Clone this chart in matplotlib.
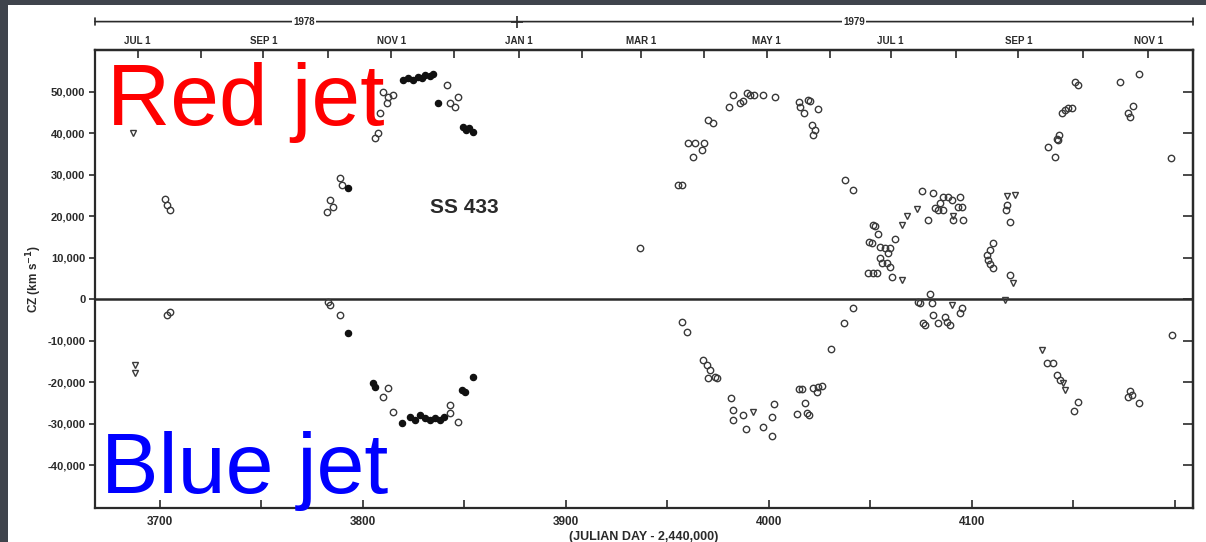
import matplotlib.pyplot as plt
from matplotlib.patches import Rectangle
from matplotlib import transforms

# SS 433 radial velocities, day = JD - 2,440,000, cz in km/s
open_day = [3702.5, 3703.4, 3704.9, 3782.3, 3783.7, 3785.2, 3788.7, 3789.7,
            3805.9, 3807.4, 3808.4, 3811.8, 3809.9, 3812.3, 3814.8,
            3782.8, 3783.7, 3788.7, 3703.4, 3704.9,
            3812.3, 3809.9, 3814.8, 3842.9, 3842.9, 3846.8,
            3841.4, 3842.9, 3845.3, 3846.8, 3936.5,
            3955.2, 3957.1, 3962.6, 3967.0, 3968.0, 3960.1, 3963.5, 3970.0, 3972.4,
            3980.3, 3982.3, 3985.7, 3987.2, 3989.2, 3990.6, 3992.6, 3997.0, 4003.0,
            4014.8, 4015.3, 4019.2, 4020.2, 4017.2, 4024.1, 4021.2, 4022.7, 4021.7,
            4037.4, 4041.4,
            3957.1, 3959.6, 3967.5, 3969.5, 3970.9, 3970.0, 3973.4, 3974.4,
            3981.3, 3982.3, 3982.3, 3987.2, 3988.7, 3997.0, 4001.5, 4001.5, 4002.5,
            4013.8, 4014.8, 4016.3, 4017.7, 4018.7, 4019.7, 4021.7, 4024.1, 4026.1,
            4023.6, 4030.5, 4036.9, 4041.4,
            4075.4, 4080.8, 4085.7, 4088.2, 4090.1, 4094.1, 4084.2, 4083.3, 4085.7,
            4081.8, 4093.1, 4095.1, 4078.3, 4090.6, 4095.6,
            4051.2, 4052.2, 4053.7, 4062.1, 4049.3, 4050.7, 4054.7, 4057.1, 4059.6,
            4058.6, 4054.7, 4055.7, 4058.1, 4059.6, 4048.8, 4051.2, 4053.2, 4060.6,
            4117.2, 4116.7, 4118.7, 4110.3, 4108.9, 4107.4, 4107.9, 4108.9, 4110.3,
            4118.7,
            4079.3, 4073.4, 4074.4, 4080.3, 4095.1, 4094.1, 4080.8, 4075.9, 4076.8,
            4083.3, 4086.7, 4087.7, 4089.2,
            4137.4, 4140.9, 4142.4, 4142.9, 4141.9, 4144.3, 4145.8, 4147.3, 4149.3,
            4150.7, 4152.2, 4172.9, 4182.3, 4179.3, 4176.8, 4177.8, 4198.0,
            4136.9, 4139.9, 4141.9, 4143.3, 4152.2, 4150.2, 4198.5, 4177.8, 4178.8,
            4176.8, 4182.3]
open_cz = [24100, 22700, 21400, 21000, 23900, 22200, 29200, 27500,
           38800, 40000, 44800, 47200, 49900, 48700, 49200,
           -700, -1400, -3900, -3900, -3100,
           -21400, -23600, -27200, -25500, -27500, -29600,
           51600, 47200, 46300, 48700, 12300,
           27500, 27500, 34200, 35900, 37600, 37600, 37600, 43100, 42400,
           46300, 49200, 47200, 47700, 49600, 49200, 49200, 49200, 48700,
           47500, 46300, 48000, 47700, 44800, 45800, 41900, 40700, 39500,
           28700, 26300,
           -5500, -8000, -14700, -15900, -17100, -19000, -18800, -19000,
           -23900, -26800, -29200, -28000, -31300, -30800, -28400, -33000, -25300,
           -27700, -21700, -21700, -25100, -27500, -28000, -21400, -21200, -21000,
           -22400, -12100, -5800, -2200,
           26000, 25500, 24600, 24600, 23900, 24600, 23100, 21400, 21400,
           21900, 22200, 22200, 19000, 19000, 19000,
           17800, 17600, 15700, 14500, 13700, 13500, 12500, 12300, 12300,
           11100, 9900, 8700, 8700, 7700, 6300, 6300, 6300, 5300,
           22700, 21400, 18600, 13500, 11800, 10600, 9400, 8400, 7500,
           5800,
           1200, -700, -1000, -1000, -2200, -3400, -3900, -5800, -6300,
           -5800, -4300, -5500, -6300,
           36600, 34200, 38300, 39500, 38600, 44800, 45500, 46000, 46000,
           52300, 51600, 52300, 54200, 46500, 44800, 43900, 34000,
           -15400, -15400, -18300, -19500, -24800, -27000, -8700, -22200, -23100,
           -23600, -25100]

filled_day = [3792.6, 3792.6, 3819.7, 3822.2, 3824.6, 3827.1, 3829.1, 3830.5,
              3833.0, 3834.5, 3836.9, 3849.3, 3850.7, 3852.2, 3854.2,
              3804.9, 3805.9, 3819.2, 3823.2, 3825.6, 3828.1, 3830.5, 3833.0,
              3835.5, 3837.9, 3839.9, 3848.8, 3850.2, 3854.2]
filled_cz = [26800, -8200, 52800, 53300, 52800, 53500, 53300, 54000,
             53700, 54200, 47200, 41500, 40700, 41200, 40200,
             -20200, -21200, -29900, -28400, -29200, -28000, -28700, -29200,
             -28700, -29200, -28400, -21900, -22400, -18800]

tri_day = [3686.7, 3687.7, 3687.7, 3992.1, 4072.9, 4068.0, 4065.5, 4090.6,
           4065.5, 4117.2, 4121.2, 4120.2, 4090.1, 4116.3, 4134.5, 4144.8, 4145.8]
tri_cz = [40000, -15900, -17800, -27200, 21700, 20000, 17800, 20000,
          4600, 24800, 25100, 3900, -1400, -200, -12300, -20200, -21900]

day_ticks = [3700, 3800, 3900, 4000, 4100]
day_minor = [3750, 3850, 3950, 4050, 4150, 4200]
cz_ticks = [50000, 40000, 30000, 20000, 10000, 0,
            -10000, -20000, -30000, -40000]
cz_labels = ['50,000', '40,000', '30,000', '20,000', '10,000', '0',
             '-10,000', '-20,000', '-30,000', '-40,000']
month_ticks = [3689, 3720, 3751, 3783, 3814, 3845, 3877, 3908, 3937,
               3968, 3999, 4030, 4060, 4092, 4123, 4155, 4187]
month_labels = ['JUL 1', '', 'SEP 1', '', 'NOV 1', '', 'JAN 1', '', 'MAR 1',
                '', 'MAY 1', '', 'JUL 1', '', 'SEP 1', '', 'NOV 1']
year_pos = [3771, 4042]
year_labels = ['1978', '1979']

ink = '#2a2a2a'
plt.rcParams['font.family'] = ['Liberation Sans', 'DejaVu Sans']

fig = plt.figure(figsize=(12.06, 5.42), dpi=100, facecolor='#3f444c')
# white page of the scanned figure, behind everything
fig.patches.append(Rectangle((8 / 1206, 0), 1, 1 - 5 / 542,
                             transform=fig.transFigure, facecolor='white',
                             edgecolor='none', zorder=-10))

ax = fig.add_axes([95 / 1206, 1 - 508 / 542, 1098 / 1206, 458 / 542])
ax.set_facecolor('white')
ax.set_xlim(3668, 4209)
ax.set_ylim(-50300, 60000)

ax.axhline(0, color=ink, lw=1.8, zorder=1)

ax.plot(open_day, open_cz, 'o', ms=4.6, mfc='none', mec='#3a3a3a', mew=1.0, zorder=3)
ax.plot(filled_day, filled_cz, 'o', ms=4.4, color='#111111', zorder=3)
ax.plot(tri_day, tri_cz, 'v', ms=4.8, mfc='none', mec='#3a3a3a', mew=1.0, zorder=3)

for s in ax.spines.values():
    s.set_linewidth(1.6)
    s.set_color(ink)

# bottom axis: Julian day
ax.set_xticks(day_ticks)
ax.set_xticklabels([str(d) for d in day_ticks])
ax.set_xticks(day_minor, minor=True)
ax.tick_params(axis='x', which='both', direction='in', length=6, width=1.2,
               color=ink, labelsize=8.5, pad=6, labelcolor=ink)
for t in ax.get_xticklabels():
    t.set_fontweight('bold')

# left axis
ax.set_yticks(cz_ticks)
ax.set_yticklabels(cz_labels)
ax.tick_params(axis='y', which='major', direction='out', length=4, width=1.2,
               color=ink, labelsize=8, pad=3, labelcolor=ink)
for t in ax.get_yticklabels():
    t.set_fontweight('bold')

# right axis ticks only
ry = ax.secondary_yaxis('right')
ry.set_yticks(cz_ticks)
ry.tick_params(direction='in', length=7, width=1.2, color=ink, labelright=False)
ry.spines['right'].set_linewidth(1.6)

# top axis with calendar months
tx = ax.secondary_xaxis('top')
tx.set_xticks(month_ticks)
tx.set_xticklabels(month_labels)
tx.tick_params(direction='in', length=6, width=1.2, color=ink, labelsize=7,
               pad=3, labelcolor=ink)
tx.spines['top'].set_linewidth(1.6)
for t in tx.get_xticklabels():
    t.set_fontweight('bold')

# year bar above the months
trans = transforms.blended_transform_factory(ax.transData, ax.transAxes)
ybar = 1.062
ax.annotate('', xy=(3668, ybar), xytext=(4209, ybar), xycoords=trans,
            textcoords=trans, annotation_clip=False,
            arrowprops=dict(arrowstyle='|-|,widthA=0.25,widthB=0.25',
                            color=ink, lw=1.2, shrinkA=0, shrinkB=0))
ax.plot([3876], [ybar], marker='+', ms=8, mew=1.2, color=ink,
        transform=trans, clip_on=False)
for xp, lab in zip(year_pos, year_labels):
    ax.text(xp, ybar, lab, transform=trans, ha='center', va='center',
            fontsize=7, fontweight='bold', color=ink,
            bbox=dict(facecolor='white', edgecolor='none', pad=1))

ax.text(3850, 22000, 'SS 433', ha='center', va='center', fontsize=15,
        fontweight='bold', color=ink)

ax.set_ylabel('CZ (km s$^{\\mathbf{-1}}$)', fontsize=8.5, fontweight='bold',
              color=ink, labelpad=2)
ax.set_xlabel('(JULIAN DAY - 2,440,000)', fontsize=9, fontweight='bold',
              color=ink, labelpad=2)

fig.text(107 / 1206, 1 - 125 / 542, 'Red jet', color='#ff0000', fontsize=63,
         va='baseline', ha='left')
fig.text(101 / 1206, 1 - 493 / 542, 'Blue jet', color='#0000ff', fontsize=62,
         va='baseline', ha='left')

fig.savefig('out.png', dpi=100, facecolor=fig.get_facecolor())
